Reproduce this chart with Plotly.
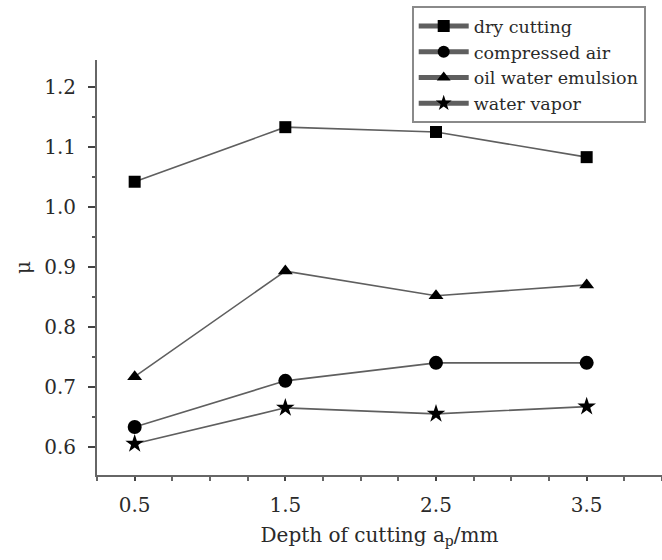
import plotly.graph_objects as go

depth = [0.5, 1.5, 2.5, 3.5]
dry_cutting = [1.042, 1.133, 1.125, 1.083]
compressed_air = [0.633, 0.710, 0.740, 0.740]
oil_water_emulsion = [0.717, 0.893, 0.852, 0.870]
water_vapor = [0.605, 0.665, 0.655, 0.667]

series_names = ["dry cutting", "compressed air", "oil water emulsion", "water vapor"]
series_values = [dry_cutting, compressed_air, oil_water_emulsion, water_vapor]
symbols = ["square", "circle", "triangle-up", "star"]
sizes = [12, 14, 13, 14]

x_tickvals = [0.5, 1.5, 2.5, 3.5]
x_ticktext = ["0.5", "1.5", "2.5", "3.5"]
y_tickvals = [0.6, 0.7, 0.8, 0.9, 1.0, 1.1, 1.2]
y_ticktext = ["0.6", "0.7", "0.8", "0.9", "1.0", "1.1", "1.2"]

FONT = "DejaVu Serif"
TXT = "#2a2a2a"
fig = go.Figure()
for name, vals, sym, sz in zip(series_names, series_values, symbols, sizes):
    fig.add_trace(go.Scatter(
        x=depth, y=vals, name=name, mode="lines+markers",
        line=dict(color="#5f5f5f", width=1.6),
        marker=dict(symbol=sym, size=sz, color="black", line=dict(width=0)),
    ))

fig.update_layout(
    width=662, height=560,
    margin=dict(l=97, r=0, t=60, b=85),
    plot_bgcolor="white", paper_bgcolor="white",
    font=dict(family=FONT, size=20, color=TXT),
    showlegend=True,
    legend=dict(
        x=0.557, y=1.13, xanchor="left", yanchor="top",
        bordercolor="#8a8a8a", borderwidth=2, bgcolor="white",
        font=dict(family=FONT, size=17.5, color=TXT),
        tracegroupgap=0, itemsizing="constant", itemwidth=50,
    ),
    xaxis=dict(
        range=[0.25, 4.0], tickmode="array", tickvals=x_tickvals, ticktext=x_ticktext,
        ticks="outside", ticklen=4, tickwidth=1.5, tickcolor="#444",
        minor=dict(dtick=0.25, tick0=0.25, ticks="outside", ticklen=4, tickwidth=1.5, tickcolor="#666", showgrid=False),
        showline=True, linecolor="#666", linewidth=2, showgrid=False, zeroline=False,
        tickfont=dict(family=FONT, size=20, color=TXT),
        ticklabelstandoff=7,
        title=dict(text="Depth of cutting a<sub>p</sub>/mm", font=dict(family=FONT, size=20, color=TXT), standoff=12),
    ),
    yaxis=dict(
        range=[0.553, 1.245], tickmode="array", tickvals=y_tickvals, ticktext=y_ticktext,
        ticks="outside", ticklen=7, tickwidth=1.5, tickcolor="#444",
        minor=dict(dtick=0.05, tick0=0.55, ticks="outside", ticklen=3, tickwidth=1.5, tickcolor="#555", showgrid=False),
        showline=True, linecolor="#666", linewidth=2, showgrid=False, zeroline=False,
        tickfont=dict(family=FONT, size=20, color=TXT),
        ticklabelstandoff=8,
        title=dict(text="μ", font=dict(family=FONT, size=20, color=TXT), standoff=8),
    ),
)

fig.write_html("out.html")
